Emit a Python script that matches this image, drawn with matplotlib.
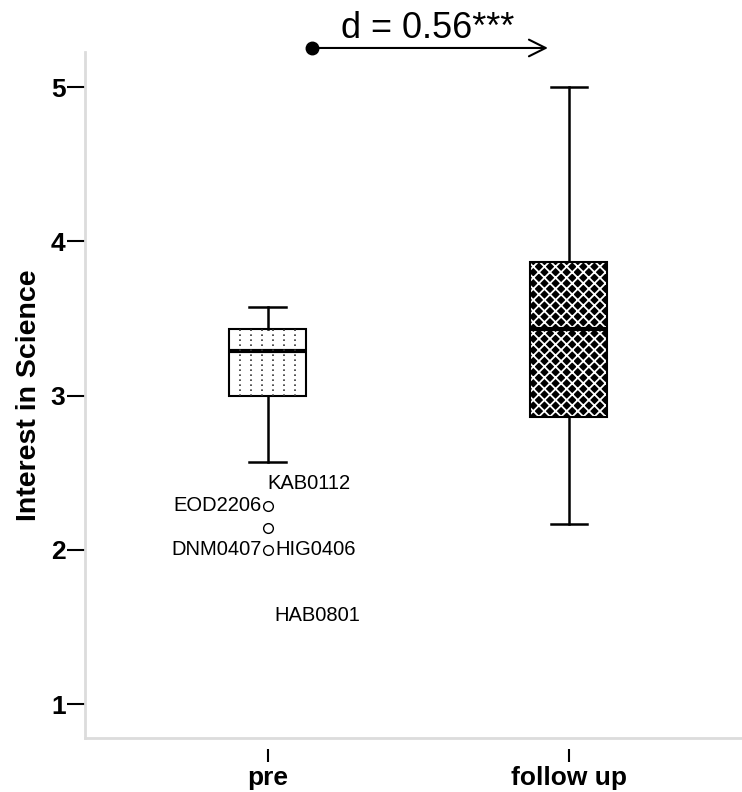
import matplotlib.pyplot as plt
import numpy as np

# values (Interest in Science, scale 1-5)
groups = ["pre", "follow up"]
whis_hi = [3.571, 5.0]
q3 = [3.429, 3.866]
medians = [3.286, 3.432]
q1 = [3.0, 2.861]
whis_lo = [2.571, 2.17]
pre_outliers = [2.286, 2.143, 2.0]
labels_left = [("EOD2206", 2.286), ("DNM0407", 2.0)]
labels_right = [("KAB0112", 2.429, 0.0), ("HIG0406", 2.0, 0.026), ("HAB0801", 1.571, 0.024)]
effect_text = "d = 0.56***"

plt.rcParams['font.family'] = ['Liberation Sans', 'DejaVu Sans']
plt.rcParams['hatch.linewidth'] = 1.3

fig = plt.figure(figsize=(7.42, 7.92), dpi=100)
ax = fig.add_axes([85 / 742, 54 / 792, 1 - 85 / 742, (738 - 52) / 792])

stats = []
for i, g in enumerate(groups):
    stats.append(dict(label=g, med=medians[i], q1=q1[i], q3=q3[i],
                      whislo=whis_lo[i], whishi=whis_hi[i],
                      fliers=pre_outliers if i == 0 else []))

pos = [0, 1]
w = 0.255
bp = ax.bxp(stats, positions=pos, widths=w, patch_artist=True,
            boxprops=dict(linewidth=1.5, edgecolor='black'),
            medianprops=dict(color='black', linewidth=3),
            whiskerprops=dict(color='black', linewidth=1.8),
            capprops=dict(color='black', linewidth=1.8),
            capwidths=w * 0.47,
            flierprops=dict(marker='o', markersize=7, markerfacecolor='none',
                            markeredgecolor='black', markeredgewidth=1.0))

# pre box: white with dotted vertical lines
bp['boxes'][0].set_facecolor('white')
xs = np.linspace(pos[0] - w / 2, pos[0] + w / 2, 8)[1:-1]
ax.vlines(xs, q1[0], q3[0], colors='#333333', linestyles=(0, (1, 2)), linewidth=1.2, zorder=2.5)

# follow up box: black with white diamond lattice
ax.bar(pos[1], q3[1] - q1[1], bottom=q1[1], width=w, color='black',
       hatch='xxx', edgecolor='white', linewidth=0, zorder=2.2)
bp['boxes'][1].set_facecolor('none')
bp['boxes'][1].set_zorder(3)
bp['medians'][1].set_zorder(4)

# outlier labels
for name, v in labels_left:
    ax.text(pos[0] - 0.02, v, name, ha='right', va='center', fontsize=14.5)
for name, v, dx in labels_right:
    ax.text(pos[0] + dx, v, name, ha='left', va='center', fontsize=14.5)

# effect size arrow
ya = 5.253
ax.annotate('', xy=(0.94, ya), xytext=(0.146, ya),
            arrowprops=dict(arrowstyle='->,head_length=1.2,head_width=0.6', color='black', lw=1.5),
            annotation_clip=False)
ax.plot([0.146], [ya], 'o', color='black', markersize=9, clip_on=False)
ax.text(0.53, ya + 0.015, effect_text, ha='center', va='bottom', fontsize=26)

ymax = 1 + (704 - 52) / 154.25
ax.set_xlim(-0.606, 1.575)
ax.set_ylim(0.78, ymax)

for s in ['top', 'right']:
    ax.spines[s].set_visible(False)
ax.spines['left'].set_color('#dcdcdc')
ax.spines['left'].set_linewidth(2)
ax.spines['bottom'].set_position(('outward', 8))
ax.spines['bottom'].set_color('none')
ax.axhline(0.78, color='#dcdcdc', linewidth=2, zorder=0, clip_on=False)

ax.set_yticks([1, 2, 3, 4, 5])
ax.set_xticks(pos)
ax.set_xticklabels(groups)
ax.tick_params(axis='y', length=13, width=1.5, pad=1, labelsize=19, color='black')
ax.tick_params(axis='x', length=9, width=1.5, pad=3, labelsize=19)
for lab in ax.get_yticklabels() + ax.get_xticklabels():
    lab.set_fontweight('bold')
ax.set_ylabel("Interest in Science", fontsize=20.5, fontweight='bold', labelpad=6)

fig.savefig("out.png", dpi=100)
